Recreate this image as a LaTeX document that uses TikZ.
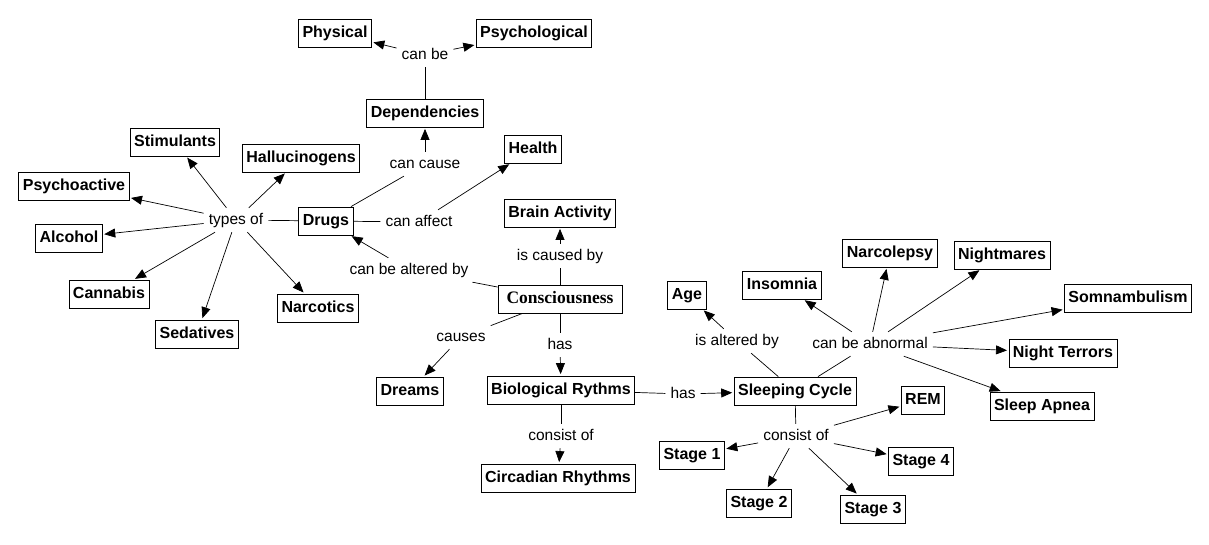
\documentclass[tikz,border=0pt]{standalone}
\usepackage{fontspec}
\setmainfont{Liberation Sans}
\newfontfamily\serifbold{Liberation Serif}
\usetikzlibrary{arrows.meta}
\begin{document}
\begin{tikzpicture}[x=1pt,y=-1pt,
  concept/.style={draw, line width=0.8pt, font=\bfseries\fontsize{16}{18}\selectfont,
    inner xsep=4pt, inner ysep=0pt, minimum height=28pt, text height=12pt, text depth=3.5pt},
  lab/.style={font=\fontsize{15.5}{18}\selectfont, inner sep=5pt, text height=11pt, text depth=3pt},
  ln/.style={line width=0.7pt},
  arr/.style={line width=0.7pt, -{Triangle[length=11pt,width=9pt]}, shorten >=1.5pt},
]
\useasboundingbox[fill=white] (0,0) rectangle (1209,544);

% concepts
\node[concept] (phys) at (335,33) {Physical};
\node[concept] (psych) at (534,33) {Psychological};
\node[concept] (dep) at (425,113) {Dependencies};
\node[concept] (health) at (533,149) {Health};
\node[concept] (stim) at (175,142) {Stimulants};
\node[concept] (hall) at (301,158) {Hallucinogens};
\node[concept] (psyact) at (74,186) {Psychoactive};
\node[concept] (drugs) at (326,221) {Drugs};
\node[concept] (brain) at (560,213) {Brain Activity};
\node[concept] (alc) at (69,238) {Alcohol};
\node[concept] (cann) at (109,294) {Cannabis};
\node[concept] (narc) at (318,308) {Narcotics};
\node[concept] (sed) at (197,334) {Sedatives};
\node[concept, font=\serifbold\bfseries\fontsize{17.5}{19}\selectfont, minimum width=124pt] (cons) at (560,299) {Consciousness};
\node[concept] (dreams) at (410,391) {Dreams};
\node[concept] (bio) at (561,390) {Biological Rythms};
\node[concept] (circ) at (558,478) {Circadian Rhythms};
\node[concept] (age) at (687,295) {Age};
\node[concept] (insom) at (782,285) {Insomnia};
\node[concept] (narco) at (890,253) {Narcolepsy};
\node[concept] (night) at (1002,255) {Nightmares};
\node[concept] (somn) at (1128,298) {Somnambulism};
\node[concept] (terr) at (1063,353) {Night Terrors};
\node[concept] (sleep) at (795,391) {Sleeping Cycle};
\node[concept] (apnea) at (1042,406) {Sleep Apnea};
\node[concept] (rem) at (923,400) {REM};
\node[concept] (s1) at (692,455) {Stage 1};
\node[concept] (s4) at (921,461) {Stage 4};
\node[concept] (s2) at (759,503) {Stage 2};
\node[concept] (s3) at (873,509) {Stage 3};

% link labels
\node[lab] (canbe) at (425,55) {can be};
\node[lab] (cancause) at (425,164) {can cause};
\node[lab] (typesof) at (236,220) {types of};
\node[lab] (canaffect) at (419,222) {can affect};
\node[lab] (altered) at (409,270) {can be altered by};
\node[lab] (iscaused) at (560,256) {is caused by};
\node[lab] (causes) at (461,337) {causes};
\node[lab] (has1) at (560,345) {has};
\node[lab] (has2) at (683,394) {has};
\node[lab] (consist1) at (561,436) {consist of};
\node[lab] (isalt) at (737,341) {is altered by};
\node[lab] (abn) at (870,344) {can be abnormal};
\node[lab] (consist2) at (796,436) {consist of};

% connectors
\draw[ln] (dep) -- (canbe);
\draw[arr] (canbe) -- (phys);
\draw[arr] (canbe) -- (psych);

\draw[ln] (drugs) -- (cancause);
\draw[arr] (cancause) -- (dep);

\draw[ln] (drugs) -- (canaffect);
\draw[arr] (canaffect) -- (health);

\draw[ln] (drugs) -- (typesof);
\foreach \t in {stim,hall,psyact,alc,cann,narc,sed}
  \draw[arr] (typesof) -- (\t);

\draw[ln] (cons) -- (altered);
\draw[arr] (altered) -- (drugs);

\draw[ln] (cons) -- (iscaused);
\draw[arr] (iscaused) -- (brain);

\draw[ln] (cons) -- (causes);
\draw[arr] (causes) -- (dreams);

\draw[ln] (cons) -- (has1);
\draw[arr] (has1) -- (bio);

\draw[ln] (bio) -- (consist1);
\draw[arr] (consist1) -- (circ);

\draw[ln] (bio) -- (has2);
\draw[arr] (has2) -- (sleep);

\draw[ln] (sleep) -- (isalt);
\draw[arr] (isalt) -- (age);

\draw[ln] (sleep) -- (abn);
\foreach \t in {insom,narco,night,somn,terr,apnea}
  \draw[arr] (abn) -- (\t);

\draw[ln] (sleep) -- (consist2);
\foreach \t in {s1,s2,s3,s4,rem}
  \draw[arr] (consist2) -- (\t);
\end{tikzpicture}
\end{document}
